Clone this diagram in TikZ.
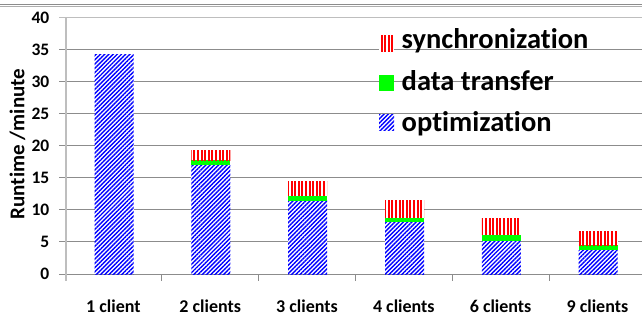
\documentclass[tikz,border=0pt]{standalone}
\usepackage{fontspec}
\setmainfont{Carlito}[Ligatures={NoCommon,NoContextual}]
\usetikzlibrary{patterns.meta}
\definecolor{gridc}{HTML}{8C8C8C}
\definecolor{axisc}{HTML}{BEBEBE}
\definecolor{gr}{HTML}{00FF00}
\tikzset{
 optfill/.style={preaction={fill=white}, pattern={Lines[angle=45,distance=3pt,line width=1.4pt]}, pattern color=blue},
 syncfill/.style={preaction={fill=white}, pattern={Lines[angle=90,distance=3.6pt,line width=2pt]}, pattern color=red},
 dtfill/.style={fill=gr},
 gridline/.style={draw=gridc, line width=0.9pt},
 ticklbl/.style={font=\fontsize{17.5}{17.5}\selectfont\bfseries, anchor=east, inner sep=0pt},
 catlbl/.style={font=\fontsize{18}{18}\selectfont\bfseries, anchor=base, inner sep=0pt},
 leglbl/.style={font=\fontsize{28.5}{28.5}\selectfont\bfseries, anchor=base west, inner sep=0pt},
 ylbl/.style={font=\fontsize{21}{21}\selectfont\bfseries, rotate=90, inner sep=0pt},
}
\begin{document}
\begin{tikzpicture}[x=1pt,y=-1pt]
\useasboundingbox (0,0) rectangle (642,320);
\fill[white] (0,0) rectangle (642,320);
% top frame line
\draw[gridc, line width=0.6pt] (0,4) -- (642,4);
\draw[gridc!70, line width=0.6pt] (0,6.2) -- (642,6.2);
% gridlines
\foreach \v in {0,5,...,35} {
  \draw[gridline] (59,{274-6.4125*\v}) -- (642,{274-6.4125*\v});
}
\draw[axisc, line width=0.9pt] (59,17.5) -- (642,17.5);
\foreach \v in {0,5,...,40} {
  \node[ticklbl] (t\v) at (49.5,{274-6.4125*\v}) {\v};
}
% x ticks
\foreach \k in {0,...,6} {
  \draw[gridc, line width=0.9pt] ({65+96.8*\k},274) -- ++(0,7);
}
% y axis
\draw[axisc, line width=1.6pt] (65.7,17.5) -- (65.7,281);
% single bar (1 client)
\path[optfill] ({65+96.8*0.5+0.7-19.5},274) rectangle ({65+96.8*0.5+0.7+19.5},{274-6.4125*34.3});
% stacked bars: index / optimization top / data transfer top / sync top
\foreach \i/\o/\d/\s in {1/17.0/17.7/19.3, 2/11.4/12.2/14.5, 3/8.1/8.8/11.4, 4/5.1/6.1/8.7, 5/3.7/4.5/6.6} {
  \pgfmathsetmacro\cx{65+96.8*(\i+0.5)+0.7}
  \path[optfill] ({\cx-19.5},274) rectangle ({\cx+19.5},{274-6.4125*\o});
  \path[dtfill] ({\cx-19.5},{274-6.4125*\o}) rectangle ({\cx+19.5},{274-6.4125*\d});
  \path[syncfill] ({\cx-19.5},{274-6.4125*\d}) rectangle ({\cx+19.5},{274-6.4125*\s});
}
% category labels
\node[catlbl] (c1) at ({65+96.8*0.5},312.8) {1 client};
\node[catlbl] (c2) at ({65+96.8*1.5},312.8) {2 clients};
\node[catlbl] (c3) at ({65+96.8*2.5},312.8) {3 clients};
\node[catlbl] (c4) at ({65+96.8*3.5},312.8) {4 clients};
\node[catlbl] (c6) at ({65+96.8*4.5},312.8) {6 clients};
\node[catlbl] (c9) at ({65+96.8*5.5},312.8) {9 clients};
% y label
\node[ylbl] (yl) at (17.5,144) {Runtime /minute};
% legend
\path[syncfill] (379,36) rectangle (394,52);
\path[dtfill] (379,75) rectangle (394,91);
\path[optfill] (379,115) rectangle (394,131);
\node[leglbl] (l1) at (401.5,49) {synchronization};
\node[leglbl] (l2) at (401.5,90.2) {data transfer};
\node[leglbl] (l3) at (401.5,131.5) {optimization};
\end{tikzpicture}
\end{document}
